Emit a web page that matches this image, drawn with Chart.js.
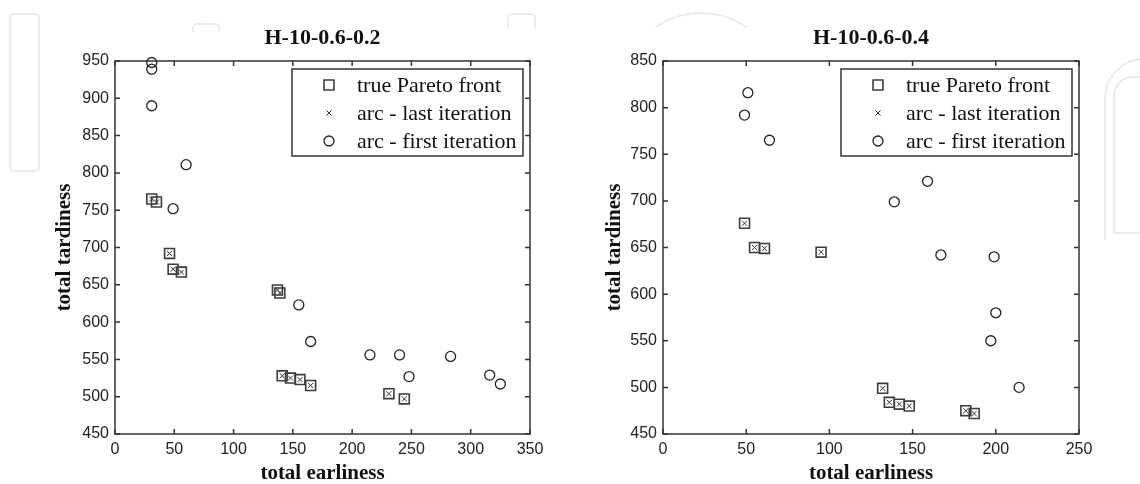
<!DOCTYPE html>
<html><head><meta charset="utf-8">
<script src="https://cdn.jsdelivr.net/npm/chart.js@4/dist/chart.umd.min.js"></script>
<style>
html,body{margin:0;padding:0;background:#fff;}
#wrap{position:relative;width:1140px;height:484px;overflow:hidden;background:#fff;}
.wm{position:absolute;border:2px solid #ececec;box-sizing:border-box;}
.clip{position:absolute;overflow:hidden;}
canvas{position:absolute;top:0;}
</style></head><body>
<div id="wrap">
  <div class="wm" style="left:9px;top:13px;width:31px;height:159px;border-radius:5px;"></div>
  <div class="wm" style="left:192px;top:23px;width:28px;height:9px;border-bottom:none;border-radius:5px 5px 0 0;"></div>
  <div class="wm" style="left:507px;top:13px;width:29px;height:15px;border-bottom:none;border-radius:5px 5px 0 0;"></div>
  <div class="clip" style="left:630px;top:8px;width:140px;height:19px;">
    <div class="wm" style="left:-10px;top:4px;width:162px;height:162px;border-radius:50%;"></div>
  </div>
  <div class="clip" style="left:1084px;top:50px;width:56px;height:190px;">
    <div class="wm" style="left:20px;top:8px;width:120px;height:400px;border-radius:40px 0 0 0;"></div>
    <div class="wm" style="left:29px;top:26px;width:120px;height:158px;border-radius:20px 0 0 0;"></div>
  </div>
  <canvas id="c1" width="570" height="484" style="left:0;width:570px;height:484px;"></canvas>
  <canvas id="c2" width="570" height="484" style="left:570px;width:570px;height:484px;"></canvas>
</div>
<script>
// ---------- data ----------
const legendLabels = ['true Pareto front', 'arc - last iteration', 'arc - first iteration'];
const xAxisTitle = 'total earliness';
const yAxisTitle = 'total tardiness';

// Chart A : H-10-0.6-0.2
const titleA = 'H-10-0.6-0.2';
const xTicksA = [0, 50, 100, 150, 200, 250, 300, 350];
const yTicksA = [450, 500, 550, 600, 650, 700, 750, 800, 850, 900, 950];
const paretoXA = [31, 35, 46, 49, 56, 137, 139, 141, 148, 156, 165, 231, 244];
const paretoYA = [765, 761, 692, 671, 667, 643, 639, 528, 525, 523, 515, 504, 497];
const lastXA = [31, 35, 46, 49, 56, 137, 139, 141, 148, 156, 165, 231, 244];
const lastYA = [765, 761, 692, 671, 667, 643, 639, 528, 525, 523, 515, 504, 497];
const firstXA = [31, 31, 31, 60, 49, 155, 165, 215, 240, 248, 283, 316, 325];
const firstYA = [948, 939, 890, 811, 752, 623, 574, 556, 556, 527, 554, 529, 517];

// Chart B : H-10-0.6-0.4
const titleB = 'H-10-0.6-0.4';
const xTicksB = [0, 50, 100, 150, 200, 250];
const yTicksB = [450, 500, 550, 600, 650, 700, 750, 800, 850];
const paretoXB = [49, 55, 61, 95, 132, 136, 142, 148, 182, 187];
const paretoYB = [676, 650, 649, 645, 499, 484, 482, 480, 475, 472];
const lastXB = [49, 55, 61, 95, 132, 136, 142, 148, 182, 187];
const lastYB = [676, 650, 649, 645, 499, 484, 482, 480, 475, 472];
const firstXB = [51, 49, 64, 159, 139, 167, 199, 200, 197, 214];
const firstYB = [816, 792, 765, 721, 699, 642, 640, 580, 550, 500];

// ---------- helpers ----------
const pts = (xs, ys) => xs.map((x, i) => ({x: x, y: ys[i]}));
Chart.defaults.font.family = "'Liberation Sans', Arial, sans-serif";

const SERIF = "'Liberation Serif', 'Times New Roman', serif";
const styles = [
  {pointStyle: 'rect', radius: 7, borderColor: '#3c3c3c', borderWidth: 1.6},
  {pointStyle: 'crossRot', radius: 3.6, borderColor: '#333', borderWidth: 1},
  {pointStyle: 'circle', radius: 5, borderColor: '#222', borderWidth: 1.3}
];

function drawMarker(ctx, kind, x, y) {
  const s = styles[kind];
  ctx.save();
  ctx.strokeStyle = s.borderColor;
  ctx.lineWidth = s.borderWidth;
  ctx.beginPath();
  if (kind === 0) {
    const h = s.radius * Math.SQRT1_2;
    ctx.rect(x - h, y - h, 2 * h, 2 * h);
  } else if (kind === 1) {
    const h = s.radius * Math.SQRT1_2;
    ctx.moveTo(x - h, y - h); ctx.lineTo(x + h, y + h);
    ctx.moveTo(x + h, y - h); ctx.lineTo(x - h, y + h);
  } else {
    ctx.arc(x, y, s.radius, 0, Math.PI * 2);
  }
  ctx.stroke();
  ctx.restore();
}

const framePlugin = {
  id: 'frame',
  afterLayout(chart) {
    const t = chart.titleBlock, a = chart.chartArea;
    if (t) { t.left = a.left; t.right = a.right; t.width = a.right - a.left; }
  },
  beforeDatasetsDraw(chart) {
    const {ctx, chartArea: a, scales: {x, y}} = chart;
    ctx.save();
    ctx.strokeStyle = '#333';
    ctx.lineWidth = 1.5;
    ctx.strokeRect(a.left, a.top, a.right - a.left, a.bottom - a.top);
    ctx.beginPath();
    x.ticks.forEach(t => {
      const p = x.getPixelForValue(t.value);
      ctx.moveTo(p, a.bottom); ctx.lineTo(p, a.bottom - 5);
      ctx.moveTo(p, a.top); ctx.lineTo(p, a.top + 5);
    });
    y.ticks.forEach(t => {
      const p = y.getPixelForValue(t.value);
      ctx.moveTo(a.left, p); ctx.lineTo(a.left + 5, p);
      ctx.moveTo(a.right, p); ctx.lineTo(a.right - 5, p);
    });
    ctx.stroke();
    ctx.restore();
  },
  afterDatasetsDraw(chart) {
    const {ctx, chartArea: a} = chart;
    ctx.save();
    ctx.font = '22px ' + SERIF;
    let maxW = 0;
    legendLabels.forEach(l => { maxW = Math.max(maxW, ctx.measureText(l).width); });
    const w = Math.round(65 + maxW + 7);
    const right = a.right - 7;
    const left = right - w;
    const top = a.top + 8;
    const h = 87;
    ctx.fillStyle = '#fff';
    ctx.fillRect(left, top, w, h);
    ctx.strokeStyle = '#333';
    ctx.lineWidth = 1.5;
    ctx.strokeRect(left, top, w, h);
    ctx.fillStyle = '#111';
    ctx.textBaseline = 'middle';
    ctx.textAlign = 'left';
    legendLabels.forEach((l, i) => {
      const yy = top + 16 + i * 28;
      drawMarker(ctx, i, left + 37, yy);
      ctx.fillText(l, left + 65, yy + 1);
    });
    ctx.restore();
  }
};

function makeChart(id, cfg) {
  const ds = [cfg.pareto, cfg.last, cfg.first].map((d, i) => ({
    label: legendLabels[i],
    data: d,
    pointStyle: styles[i].pointStyle,
    pointRadius: styles[i].radius,
    pointBorderColor: styles[i].borderColor,
    pointBorderWidth: styles[i].borderWidth,
    pointBackgroundColor: 'rgba(0,0,0,0)',
    showLine: false,
    clip: false
  }));
  return new Chart(document.getElementById(id), {
    type: 'scatter',
    data: {datasets: ds},
    options: {
      responsive: false,
      animation: false,
      devicePixelRatio: 1,
      events: [],
      layout: {padding: {left: 0, right: cfg.padRight, top: 0, bottom: 0}},
      plugins: {
        legend: {display: false},
        tooltip: {enabled: false},
        title: {
          display: true, text: cfg.title, color: '#111',
          font: {family: SERIF, size: 22, weight: 'bold', lineHeight: 1},
          padding: {top: 27, bottom: 12}
        }
      },
      scales: {
        x: {
          type: 'linear', min: cfg.xTicks[0], max: cfg.xTicks[cfg.xTicks.length - 1],
          afterBuildTicks: s => { s.ticks = cfg.xTicks.map(v => ({value: v})); },
          afterFit: s => { s.height = 50; },
          grid: {display: false, drawTicks: false},
          border: {display: false},
          ticks: {color: '#222', font: {size: 16}, padding: 6, autoSkip: false, maxRotation: 0},
          title: {display: true, text: xAxisTitle, color: '#111',
                  font: {family: SERIF, size: 21, weight: 'bold', lineHeight: 1}, padding: {top: 0, bottom: 0}}
        },
        y: {
          type: 'linear', min: cfg.yTicks[0], max: cfg.yTicks[cfg.yTicks.length - 1],
          afterBuildTicks: s => { s.ticks = cfg.yTicks.map(v => ({value: v})); },
          afterFit: s => { s.width = cfg.yWidth; },
          grid: {display: false, drawTicks: false},
          border: {display: false},
          ticks: {color: '#222', font: {size: 16}, padding: 6, autoSkip: false},
          title: {display: true, text: yAxisTitle, color: '#111',
                  font: {family: SERIF, size: 21, weight: 'bold', lineHeight: 1}, padding: {top: cfg.yTitlePad, bottom: 0}}
        }
      }
    },
    plugins: [framePlugin]
  });
}

makeChart('c1', {
  title: titleA, xTicks: xTicksA, yTicks: yTicksA,
  pareto: pts(paretoXA, paretoYA), last: pts(lastXA, lastYA), first: pts(firstXA, firstYA),
  yWidth: 115, padRight: 40, yTitlePad: 54
});
makeChart('c2', {
  title: titleB, xTicks: xTicksB, yTicks: yTicksB,
  pareto: pts(paretoXB, paretoYB), last: pts(lastXB, lastYB), first: pts(firstXB, firstYB),
  yWidth: 93, padRight: 61, yTitlePad: 34
});
</script>
</body></html>
